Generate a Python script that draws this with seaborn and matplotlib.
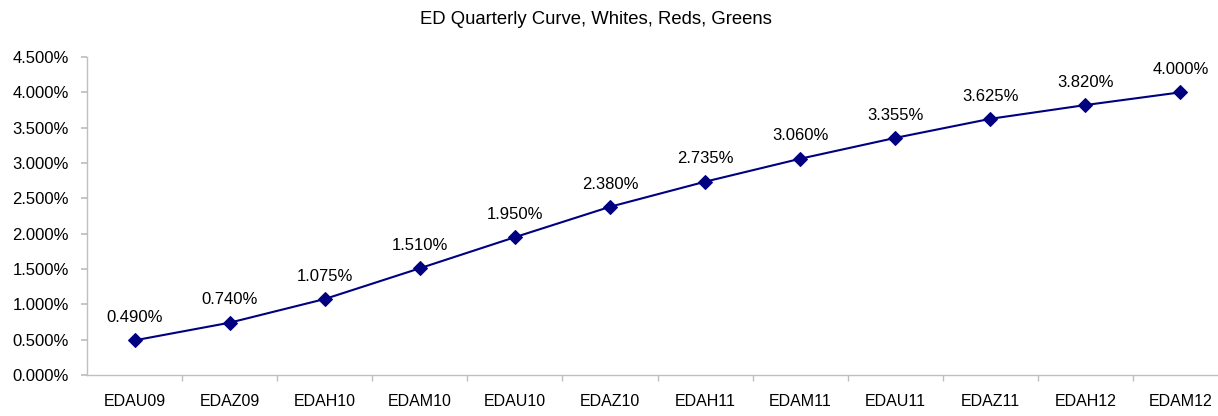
import matplotlib
matplotlib.use("Agg")
import matplotlib.pyplot as plt
import seaborn as sns
import pandas as pd
from matplotlib.ticker import FuncFormatter, FixedLocator

contracts = ["EDAU09", "EDAZ09", "EDAH10", "EDAM10", "EDAU10", "EDAZ10",
             "EDAH11", "EDAM11", "EDAU11", "EDAZ11", "EDAH12", "EDAM12"]
rates = [0.490, 0.740, 1.075, 1.510, 1.950, 2.380,
         2.735, 3.060, 3.355, 3.625, 3.820, 4.000]
title = "ED Quarterly Curve, Whites, Reds, Greens"

sns.set_theme(style="white")
plt.rcParams['font.family'] = ['Liberation Sans', 'DejaVu Sans']

df = pd.DataFrame({"contract": contracts, "rate": rates, "pos": range(len(contracts))})

W, H = 1218, 416
fig = plt.figure(figsize=(W / 100, H / 100), dpi=100)
left, right, top, bottom = 87, 1228, 57, 375
ax = fig.add_axes([left / W, 1 - bottom / H, (right - left) / W, (bottom - top) / H])

navy = "#000080"
sns.lineplot(data=df, x="pos", y="rate", ax=ax, color=navy, marker="D",
             markersize=7, markeredgecolor=navy, linewidth=1.5, sort=False)

for p, r in zip(df["pos"], df["rate"]):
    ax.annotate(f"{r:.3f}%", (p, r), xytext=(0, 11), textcoords="offset points",
                ha="center", va="bottom", fontsize=12, color="#000000")

ax.set_xlim(-0.5, len(contracts) - 0.5)
ax.set_ylim(0, 4.5)
ax.yaxis.set_major_locator(FixedLocator([i * 0.5 for i in range(10)]))
ax.yaxis.set_major_formatter(FuncFormatter(lambda v, _: f"{v:.3f}%"))
ax.set_xticks(range(len(contracts)))
ax.set_xticklabels(contracts)
ax.set_xticks([i + 0.5 for i in range(len(contracts) - 1)], minor=True)
ax.tick_params(axis="x", which="major", length=0, pad=14, labelsize=11.5, labelcolor="#000000")
ax.tick_params(axis="x", which="minor", length=4, color="#bfbfbf", direction="out", bottom=True)
ax.tick_params(axis="y", which="major", length=4, color="#bfbfbf", direction="out", left=True,
               labelsize=12, labelcolor="#000000", pad=9)

ax.set_xlabel("")
ax.set_ylabel("")
for s in ["top", "right"]:
    ax.spines[s].set_visible(False)
for s in ["left", "bottom"]:
    ax.spines[s].set_color("#bfbfbf")
    ax.spines[s].set_linewidth(1)
ax.grid(False)

fig.text(596 / W, 1 - 19 / H, title, ha="center", va="center",
         fontsize=13.3, color="#000000")

fig.savefig("out.png", dpi=100)
